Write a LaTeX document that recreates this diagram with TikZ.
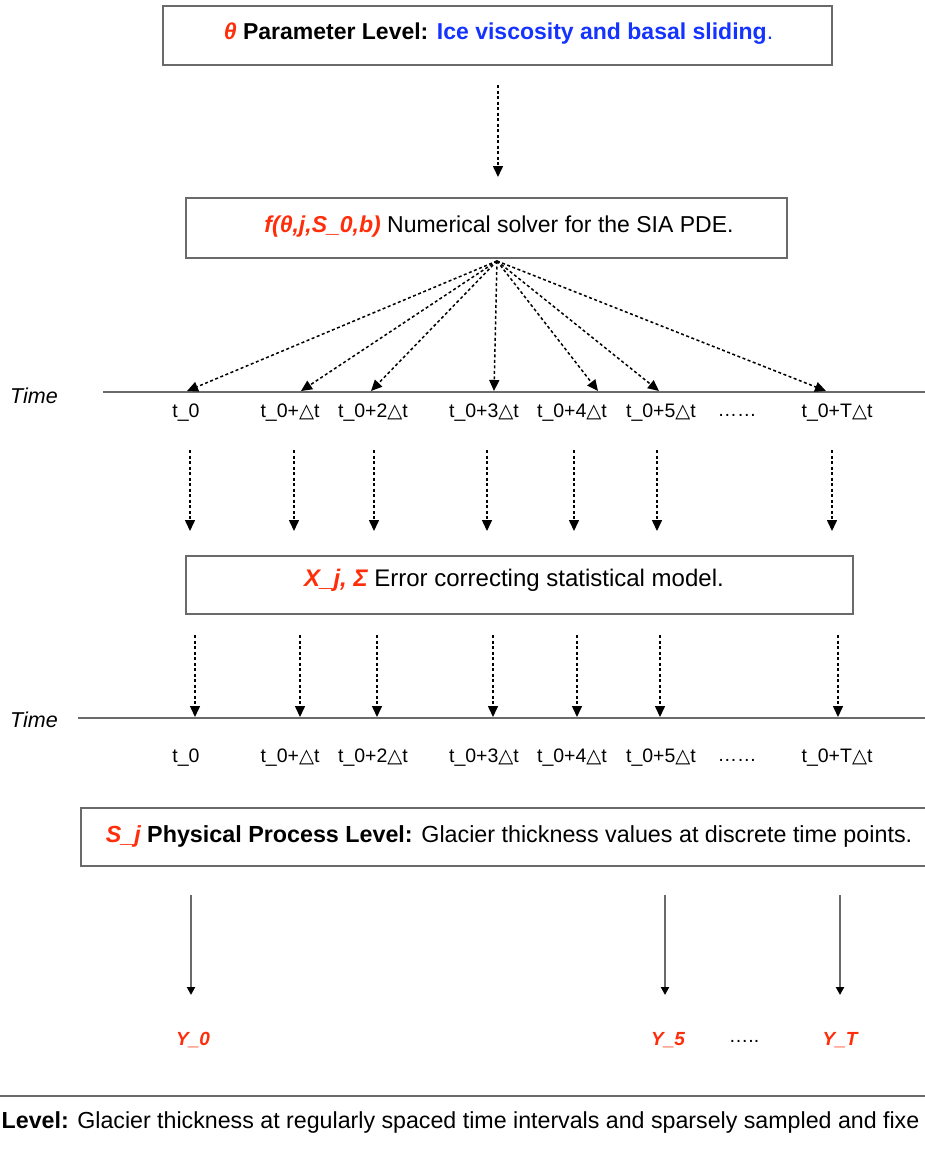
\documentclass[tikz,border=0pt]{standalone}
\usepackage{fontspec}
\setmainfont{Liberation Sans}
\newfontfamily\symfont{DejaVu Sans}
\usetikzlibrary{arrows.meta}
\definecolor{rd}{HTML}{FF2D0A}
\definecolor{bl}{HTML}{1433FF}
\definecolor{bx}{HTML}{6A6A6A}
\newcommand{\tri}{{\symfont △}}
\tikzset{
  lvlbox/.style={draw=bx, line width=2pt, inner sep=0pt},
  boxtext/.style={inner sep=0pt, font=\fontsize{23}{27}\selectfont},
  tlab/.style={inner sep=0pt, font=\fontsize{19.5}{23}\selectfont},
  timelbl/.style={inner sep=0pt, font=\fontsize{21.5}{25}\selectfont\itshape},
  ylab/.style={inner sep=0pt, text=rd, font=\fontsize{19}{23}\selectfont\bfseries\itshape},
  axis/.style={draw=bx, line width=2pt},
  dotarrow/.style={line width=1.5pt, dash pattern=on 3pt off 2.5pt, -{Triangle[width=10pt,length=11pt]}},
  solidarrow/.style={draw=bx, line width=2.2pt, -{Triangle[width=8pt,length=8pt,fill=black,color=black]}},
}
\begin{document}
\begin{tikzpicture}[x=1pt,y=-1pt]
\useasboundingbox (0,0) rectangle (925,1152);
\clip (0,0) rectangle (925,1152);

% boxes
\node[lvlbox, minimum width=669pt, minimum height=59pt] (param) at (497.5,35.5) {};
\node[boxtext] (paramtxt) at (498.5,34) {\textcolor{rd}{\bfseries\itshape θ} \textbf{Parameter Level:} \textcolor{bl}{\textbf{Ice viscosity and basal sliding}.}};

\node[lvlbox, minimum width=601pt, minimum height=60pt] (solver) at (486.5,228) {};
\node[boxtext] (solvertxt) at (499,227) {\textcolor{rd}{\bfseries\itshape f(θ,j,S\_0,b)} Numerical solver for the SIA PDE.};

\node[lvlbox, minimum width=667pt, minimum height=58pt] (stat) at (519.5,585) {};
\node[boxtext, font=\fontsize{24}{28}\selectfont] (stattxt) at (514,580) {\textcolor{rd}{\bfseries\itshape X\_j, Σ} Error correcting statistical model.};

\node[lvlbox, minimum width=880pt, minimum height=58pt, anchor=west] (phys) at (80,837) {};
\node[boxtext, font=\fontsize{23.3}{27}\selectfont] (phystxt) at (509,836) {\textcolor{rd}{\bfseries\itshape S\_j} \textbf{Physical Process Level:} Glacier thickness values at discrete time points.};

\node[lvlbox, minimum width=1000pt, minimum height=80pt, anchor=north] (data) at (462,1095) {};
\node[boxtext, font=\fontsize{23.2}{27}\selectfont, anchor=west] (datatxt) at (1.5,1122) {\textbf{Level:} Glacier thickness at regularly spaced time intervals and sparsely sampled and fixe};

% top arrow
\coordinate (p1) at (498,85);
\coordinate (p2) at (498,177);
\draw[dotarrow] (p1) -- (p2);

% timeline 1
\coordinate (ax1s) at (103,392);
\coordinate (ax1e) at (925,392);
\draw[axis] (ax1s) -- (ax1e);
\node[timelbl] (time1) at (34,396) {Time};

\coordinate (fan) at (497,261);
\foreach \x/\n in {187/a,301/b,371/c,494/d,598/e,659/f,826/g}{
  \coordinate (f\n) at (\x,391);
  \draw[dotarrow] (fan) -- (f\n);
}

% labels row 1 and 2
\foreach \y/\r in {413/r,758/s}{
  \node[tlab] (\r a) at (186,\y) {t\_0};
  \node[tlab] (\r b) at (290,\y) {t\_0+\tri t};
  \node[tlab] (\r c) at (373,\y) {t\_0+2\tri t};
  \node[tlab] (\r d) at (484,\y) {t\_0+3\tri t};
  \node[tlab] (\r e) at (572,\y) {t\_0+4\tri t};
  \node[tlab] (\r f) at (661,\y) {t\_0+5\tri t};
  \node[tlab] (\r h) at (737,\y+2) {……};
  \node[tlab] (\r g) at (837,\y) {t\_0+T\tri t};
}

% arrows to stat box
\foreach \x/\n in {190/a,294/b,374/c,487/d,574/e,657/f,832/g}{
  \coordinate (u\n) at (\x,450);
  \coordinate (v\n) at (\x,531);
  \draw[dotarrow] (u\n) -- (v\n);
}

% arrows from stat box to timeline 2
\foreach \x/\n in {195/a,300/b,377/c,493/d,577/e,660/f,838/g}{
  \coordinate (w\n) at (\x,635);
  \coordinate (z\n) at (\x,717);
  \draw[dotarrow] (w\n) -- (z\n);
}

% timeline 2
\coordinate (ax2s) at (78,718);
\coordinate (ax2e) at (925,718);
\draw[axis] (ax2s) -- (ax2e);
\node[timelbl] (time2) at (34,720) {Time};

% observation arrows
\foreach \x/\n in {191/a,665/b,840/c}{
  \coordinate (o\n) at (\x,895);
  \coordinate (q\n) at (\x,995);
  \draw[solidarrow] (o\n) -- (q\n);
}

\node[ylab] (y0) at (193,1040) {Y\_0};
\node[ylab] (y5) at (668,1040) {Y\_5};
\node[tlab] (ydots) at (744,1041) {…..};
\node[ylab] (yT) at (840,1040) {Y\_T};
\end{tikzpicture}
\end{document}
